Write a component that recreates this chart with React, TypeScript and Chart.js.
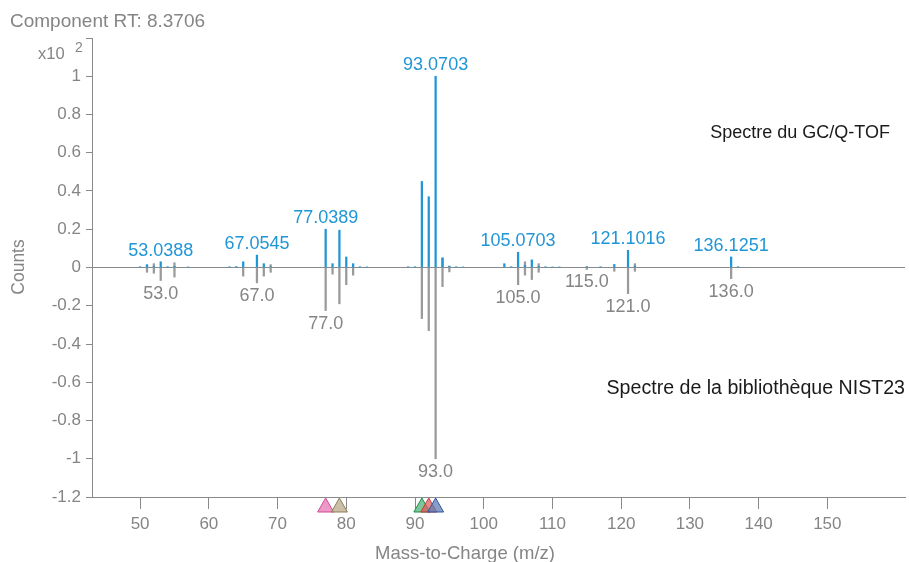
import React, { useEffect, useRef } from "react";
import { Chart, registerables } from "chart.js";

Chart.register(...registerables);

// ---- data ----
const sampleMz = [50, 51, 52, 53, 54, 55, 57, 63, 64, 65, 67, 68, 69, 77, 78, 79, 80, 81, 82, 83, 89, 90, 91, 92, 93, 94, 95, 96, 97, 103, 104, 105, 106, 107, 108, 109, 110, 111, 115, 117, 119, 121, 122, 136, 137];
const sampleInt = [0.004, 0.015, 0.006, 0.03, 0.004, 0.006, 0.003, 0.004, 0.005, 0.03, 0.065, 0.02, 0.004, 0.2, 0.02, 0.195, 0.055, 0.02, 0.004, 0.003, 0.004, 0.004, 0.45, 0.37, 1.0, 0.05, 0.007, 0.004, 0.003, 0.02, 0.004, 0.08, 0.01, 0.04, 0.006, 0.004, 0.003, 0.003, 0.004, 0.004, 0.016, 0.09, 0.007, 0.055, 0.004];

const libMz = [51, 52, 53, 55, 65, 67, 68, 69, 77, 78, 79, 80, 81, 91, 92, 93, 94, 95, 105, 106, 107, 108, 115, 119, 121, 122, 136];
const libLow = [-0.025, -0.03, -0.068, -0.05, -0.045, -0.08, -0.045, -0.025, -0.225, -0.035, -0.19, -0.09, -0.04, -0.267, -0.33, -1.0, -0.1, -0.023, -0.09, -0.04, -0.063, -0.025, -0.01, -0.02, -0.137, -0.02, -0.058];
const libHigh = [0.01, 0.02, 0, 0.025, 0, 0, 0, 0.015, 0, 0, 0, 0, 0, 0, 0, 0, 0.05, 0.007, 0, 0.03, 0, 0.02, 0.005, 0, 0, 0.02, 0];

const sampleLabelMz = [53, 67, 77, 93, 105, 121, 136];
const sampleLabelText = ["53.0388", "67.0545", "77.0389", "93.0703", "105.0703", "121.1016", "136.1251"];
const libLabelMz = [53, 67, 77, 93, 105, 115, 121, 136];
const libLabelText = ["53.0", "67.0", "77.0", "93.0", "105.0", "115.0", "121.0", "136.0"];

const markerMz = [77, 79, 91, 92, 93];

const xTickValues = [50, 60, 70, 80, 90, 100, 110, 120, 130, 140, 150];
const yTickValues = [-1.2, -1, -0.8, -0.6, -0.4, -0.2, 0, 0.2, 0.4, 0.6, 0.8, 1, 1.2];

const titleText = "Component RT: 8.3706";
const xTitle = "Mass-to-Charge (m/z)";
const yTitle = "Counts";
const sampleName = "Spectre du GC/Q-TOF";
const libName = "Spectre de la bibliothèque NIST23";

// ---- styles ----
const BLUE = "#2196d6";
const GRAY_BAR = "#9a9a9a";
const GRAY_TEXT = "#858585";
const AXIS = "#8a8a8a";
const FONT = "'Liberation Sans', Arial, sans-serif";
const markerFill = ["rgba(230,110,175,0.7)", "rgba(185,170,140,0.75)", "rgba(70,175,110,0.7)", "rgba(225,85,85,0.7)", "rgba(95,125,180,0.75)"];
const markerStroke = ["#d04a98", "#8c7d55", "#1f8a4a", "#c83a3a", "#2e55a0"];

const overlayPlugin = {
  id: "overlay",
  afterDatasetsDraw(chart: any) {
    const { ctx, chartArea } = chart;
    const xs = chart.scales.x;
    const ys = chart.scales.y;
    ctx.save();
    ctx.font = `18px ${FONT}`;
    ctx.textAlign = "center";
    ctx.textBaseline = "alphabetic";
    ctx.fillStyle = BLUE;
    sampleLabelMz.forEach((mz, i) => {
      const idx = sampleMz.indexOf(mz);
      const v = idx >= 0 ? sampleInt[idx] : 0;
      ctx.fillText(sampleLabelText[i], xs.getPixelForValue(mz), ys.getPixelForValue(v) - 6);
    });
    ctx.fillStyle = GRAY_TEXT;
    libLabelMz.forEach((mz, i) => {
      const idx = libMz.indexOf(mz);
      const v = idx >= 0 ? libLow[idx] : 0;
      ctx.fillText(libLabelText[i], xs.getPixelForValue(mz), ys.getPixelForValue(v) + 18);
    });
    markerMz.forEach((mz, i) => {
      const px = xs.getPixelForValue(mz);
      const top = chartArea.bottom + 1;
      ctx.beginPath();
      ctx.moveTo(px, top);
      ctx.lineTo(px + 8, top + 14);
      ctx.lineTo(px - 8, top + 14);
      ctx.closePath();
      ctx.fillStyle = markerFill[i];
      ctx.fill();
      ctx.lineWidth = 1;
      ctx.strokeStyle = markerStroke[i];
      ctx.stroke();
    });
    ctx.restore();
  },
  afterDraw(chart: any) {
    const { ctx } = chart;
    ctx.save();
    ctx.fillStyle = GRAY_TEXT;
    ctx.textBaseline = "alphabetic";
    ctx.textAlign = "left";
    ctx.font = `19px ${FONT}`;
    ctx.fillText(titleText, 10, 27);
    ctx.font = `16.5px ${FONT}`;
    ctx.fillText("x10", 38, 59);
    ctx.font = `14px ${FONT}`;
    ctx.fillText("2", 75, 52);
    ctx.font = `18.5px ${FONT}`;
    ctx.textAlign = "center";
    ctx.fillText(xTitle, 465, 559);
    ctx.save();
    ctx.translate(24, 267);
    ctx.rotate(-Math.PI / 2);
    ctx.font = `17.5px ${FONT}`;
    ctx.fillText(yTitle, 0, 0);
    ctx.restore();
    ctx.fillStyle = "#1a1a1a";
    ctx.textAlign = "right";
    ctx.font = `18px ${FONT}`;
    ctx.fillText(sampleName, 890, 138);
    ctx.font = `19.6px ${FONT}`;
    ctx.fillText(libName, 905, 394);
    ctx.restore();
  },
};

export default function App() {
  const ref = useRef<HTMLCanvasElement | null>(null);
  useEffect(() => {
    if (!ref.current) return;
    const chart = new Chart(ref.current, {
      type: "bar",
      data: {
        datasets: [
          {
            label: "NIST23",
            data: libMz.map((mz, i) => ({ x: mz, y: [libLow[i], libHigh[i]] })) as any,
            backgroundColor: GRAY_BAR,
            barThickness: 1.6,
            grouped: false,
            order: 2,
          } as any,
          {
            label: "GC/Q-TOF",
            data: sampleMz.map((mz, i) => ({ x: mz, y: sampleInt[i] })),
            backgroundColor: BLUE,
            barThickness: 1.6,
            grouped: false,
            order: 1,
          } as any,
        ],
      },
      options: {
        animation: false,
        responsive: true,
        maintainAspectRatio: false,
        layout: { padding: { top: 38, right: 4, left: 0, bottom: 0 } },
        plugins: { legend: { display: false }, tooltip: { enabled: false } },
        scales: {
          x: {
            type: "linear",
            offset: false,
            min: 43,
            max: 161.3,
            afterBuildTicks: (s: any) => {
              s.ticks = xTickValues.map((v) => ({ value: v }));
            },
            afterFit: (s: any) => {
              s.height = 65;
            },
            ticks: { color: GRAY_TEXT, font: { family: FONT, size: 17 }, padding: 5, maxRotation: 0 },
            grid: { display: true, offset: false, drawOnChartArea: false, drawTicks: true, tickLength: 12, tickColor: AXIS },
            border: { display: true, color: AXIS, width: 1 },
          },
          y: {
            type: "linear",
            min: -1.2,
            max: 1.2,
            afterBuildTicks: (s: any) => {
              s.ticks = yTickValues.map((v) => ({ value: v }));
            },
            afterFit: (s: any) => {
              s.width = 92;
            },
            ticks: {
              color: GRAY_TEXT,
              font: { family: FONT, size: 17 },
              padding: 5,
              callback: (v: any) => (Math.abs(v - 1.2) < 1e-6 ? "" : String(Math.round(v * 10) / 10)),
            },
            grid: {
              display: true,
              drawOnChartArea: true,
              drawTicks: true,
              tickLength: 6,
              tickColor: AXIS,
              color: (c: any) => (c.tick && Math.abs(c.tick.value) < 1e-9 ? AXIS : "rgba(0,0,0,0)"),
            },
            border: { display: true, color: AXIS, width: 1 },
          },
        },
      },
      plugins: [overlayPlugin],
    });
    return () => chart.destroy();
  }, []);
  return (
    <div style={{ position: "fixed", left: 0, top: 0, width: 909, height: 562 }}>
      <canvas ref={ref} />
    </div>
  );
}
